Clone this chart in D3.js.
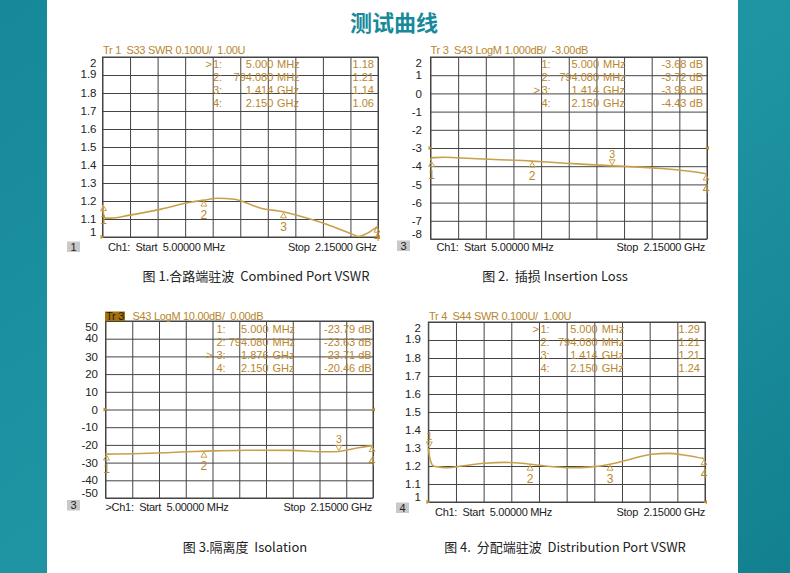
<!DOCTYPE html>
<html><head><meta charset="utf-8">
<script src="https://cdn.jsdelivr.net/npm/d3@7"></script>
<style>
html,body{margin:0;padding:0;background:#fff;overflow:hidden;}
svg{display:block;}
text{white-space:pre;}
</style></head><body>
<svg id="c" width="790" height="573"></svg>
<script>
// ---------- DATA ----------
const freqSpan = [5, 2150]; // MHz, start/stop
const title = "测试曲线";
const captions = ["图 1.合路端驻波  Combined Port VSWR", "图 2.  插损 Insertion Loss", "图 3.隔离度  Isolation", "图 4.  分配端驻波  Distribution Port VSWR"];
const headers = ["Tr 1  S33 SWR 0.100U/  1.00U", "Tr 3  S43 LogM 1.000dB/  -3.00dB", "S43 LogM 10.00dB/  0.00dB", "Tr 4  S44 SWR 0.100U/  1.00U"];
const channelBoxes = ["1", "3", "3", "4"];
const startTexts = ["Ch1:  Start  5.00000 MHz", "Ch1:  Start  5.00000 MHz", ">Ch1:  Start  5.00000 MHz", "Ch1:  Start  5.00000 MHz"];
const stopText = "Stop  2.15000 GHz";

const swrTicks = [2, 1.9, 1.8, 1.7, 1.6, 1.5, 1.4, 1.3, 1.2, 1.1, 1];
const lossTicks = [2, 1, 0, -1, -2, -3, -4, -5, -6, -7, -8];
const isoTicks = [50, 40, 30, 20, 10, 0, -10, -20, -30, -40, -50];

// Fig 1: combined port VSWR (S33)
const p1Freq = [5, 15, 30, 75, 204, 462, 669, 794, 902, 1031, 1238, 1414, 1496, 1754, 1935, 2000, 2065, 2150];
const p1Swr  = [1.18, 1.12, 1.105, 1.105, 1.12, 1.155, 1.19, 1.205, 1.215, 1.21, 1.16, 1.14, 1.125, 1.07, 1.02, 1.003, 1.02, 1.06];
// Fig 2: insertion loss (S43, dB)
const p2Freq = [5, 12, 26, 116, 246, 505, 794, 1023, 1414, 1541, 1800, 2059, 2150];
const p2Loss = [-3.68, -3.56, -3.53, -3.51, -3.55, -3.63, -3.72, -3.82, -3.98, -4.02, -4.13, -4.32, -4.43];
// Fig 3: isolation (S43, dB)
const p3Freq = [5, 282, 495, 656, 870, 1137, 1511, 1672, 1779, 1876, 1913, 2047, 2150];
const p3Iso  = [-25.2, -24.9, -24.4, -23.9, -23.4, -23.0, -23.1, -23.7, -23.9, -23.7, -23.3, -21.5, -20.4];
// Fig 4: distribution port VSWR (S44)
const p4Freq = [5, 18, 44, 83, 160, 263, 444, 599, 729, 794, 910, 1116, 1271, 1414, 1556, 1737, 1866, 1995, 2150];
const p4Swr  = [1.30, 1.24, 1.20, 1.195, 1.19, 1.20, 1.215, 1.22, 1.215, 1.21, 1.20, 1.19, 1.195, 1.21, 1.235, 1.265, 1.27, 1.26, 1.24];

// Marker tables
const markerNums = ["1:", "2:", "3:", "4:"];
const markerFreqsStd = [5, 794.08, 1414, 2150];
const markerFreqLabelsStd = ["5.000", "794.080", "1.414", "2.150"];
const markerFreqsIso = [5, 794.08, 1876, 2150];
const markerFreqLabelsIso = ["5.000", "794.080", "1.876", "2.150"];
const markerUnits = ["MHz", "MHz", "GHz", "GHz"];
const p1MarkerVals = ["1.18", "1.21", "1.14", "1.06"];
const p2MarkerVals = ["-3.68 dB", "-3.72 dB", "-3.98 dB", "-4.43 dB"];
const p3MarkerVals = ["-23.79 dB", "-23.63 dB", "-23.71 dB", "-20.46 dB"];
const p4MarkerVals = ["1.29", "1.21", "1.21", "1.24"];
const activeMarkers = [0, 2, 2, 0];

// ---------- LAYOUT / STYLE ----------
const GOLD = "#b8862e", TRACE = "#c9a04a", GRID = "#444";
const font = "Liberation Sans, Arial, sans-serif";
const svg = d3.select("#c");
const defs = svg.append("defs");
const g1 = defs.append("linearGradient").attr("id", "teal").attr("x1", 0).attr("y1", 0).attr("x2", 1).attr("y2", 1);
g1.append("stop").attr("offset", 0).attr("stop-color", "#15889a");
g1.append("stop").attr("offset", 0.5).attr("stop-color", "#1f95a4");
g1.append("stop").attr("offset", 1).attr("stop-color", "#12808f");
svg.append("rect").attr("width", 790).attr("height", 573).attr("fill", "url(#teal)");
svg.append("rect").attr("x", 47).attr("y", 0).attr("width", 691).attr("height", 573).attr("fill", "#fff");

svg.append("text").attr("x", 394).attr("y", 31).attr("text-anchor", "middle")
  .attr("font-family", "Noto Sans CJK SC").attr("font-weight", "bold").attr("font-size", 22)
  .attr("fill", "#17899a").text(title);

const panels = [
  {box: [102.5, 378, 57, 237], dom: [1, 2], ticks: swrTicks, f: p1Freq, v: p1Swr,
   mf: markerFreqsStd, mfl: markerFreqLabelsStd, mv: p1MarkerVals, dirs: ["up", "up", "up", "up"],
   tbl: [205.5, 213, 273.3, 277, 374, 64], hdrX: 103, hdrY: 54, lblR: 96.5,
   foot: [67, 241.5, 108, 251.3, 376.5], cap: [256, 281], ref: 1},
  {box: [430.5, 707, 57, 239], dom: [-8, 2], ticks: lossTicks, f: p2Freq, v: p2Loss,
   mf: markerFreqsStd, mfl: markerFreqLabelsStd, mv: p2MarkerVals, dirs: ["up", "up", "down", "up"],
   tbl: [533.5, 541.5, 599, 603, 703, 64], hdrX: 430.5, hdrY: 54, lblR: 422,
   foot: [397, 240.5, 436.5, 251.3, 705], cap: [555, 281], ref: -3},
  {box: [105.5, 373, 321, 498], dom: [-50, 50], ticks: isoTicks, f: p3Freq, v: p3Iso,
   mf: markerFreqsIso, mfl: markerFreqLabelsIso, mv: p3MarkerVals, dirs: ["up", "up", "down", "up"],
   tbl: [206, 216.5, 268.5, 272.5, 371.7, 329], hdrX: 132.5, hdrY: 319.7, lblR: 98,
   foot: [67, 500, 105.5, 510.7, 372], cap: [245, 552], ref: 0},
  {box: [428.3, 705, 322, 502], dom: [1, 2], ticks: swrTicks, f: p4Freq, v: p4Swr,
   mf: markerFreqsStd, mfl: markerFreqLabelsStd, mv: p4MarkerVals, dirs: ["down", "up", "up", "up"],
   tbl: [532.5, 540.5, 597.7, 601.7, 700, 329], hdrX: 429, hdrY: 319.7, lblR: 421,
   foot: [396, 502.5, 435, 515.7, 705], cap: [565, 552], ref: 1}
];

panels.forEach((p, i) => {
  const [x0, x1, y0, y1] = p.box;
  const x = d3.scaleLinear().domain(freqSpan).range([x0, x1]);
  const y = d3.scaleLinear().domain(p.dom).range([y1, y0]);
  const g = svg.append("g");

  // horizontal grid + labels
  const ya = g.append("g").attr("transform", `translate(${x0},0)`)
    .call(d3.axisLeft(y).tickValues(p.ticks).tickSize(-(x1 - x0)).tickPadding(x0 - p.lblR).tickFormat(d => String(d)));
  ya.select(".domain").remove();
  ya.selectAll("line").attr("stroke", GRID).attr("stroke-width", 1);
  const nT = p.ticks.length;
  ya.selectAll("text").attr("font-family", font).attr("font-size", 11.5).attr("fill", "#222")
    .attr("dy", (d, k) => k === 0 ? "0.85em" : (k === 1 ? "0.25em" : (k === nT - 1 ? "-0.15em" : "0.32em")));

  // vertical grid
  const xa = g.append("g").attr("transform", `translate(0,${y1})`)
    .call(d3.axisBottom(x).tickValues(d3.range(11).map(k => freqSpan[0] + k * (freqSpan[1] - freqSpan[0]) / 10))
      .tickSize(-(y1 - y0)).tickFormat(""));
  xa.select(".domain").remove();
  xa.selectAll("line").attr("stroke", GRID).attr("stroke-width", 1);

  g.append("rect").attr("x", x0).attr("y", y0).attr("width", x1 - x0).attr("height", y1 - y0)
    .attr("fill", "none").attr("stroke", GRID).attr("stroke-width", 1);

  // header
  if (i === 2) {
    g.append("rect").attr("x", 105).attr("y", 311.5).attr("width", 20).attr("height", 9.5).attr("fill", "#a3720f");
    g.append("text").attr("x", 106).attr("y", 319.7).attr("font-family", font).attr("font-size", 11)
      .attr("letter-spacing", -0.25).attr("fill", "#2a1a00").text("Tr 3");
  }
  g.append("text").attr("x", p.hdrX).attr("y", p.hdrY).attr("font-family", font).attr("font-size", 11)
    .attr("letter-spacing", -0.3).attr("fill", GOLD).text(headers[i]);

  // marker table
  const [gtX, numX, fR, uX, vR, rowY] = p.tbl;
  markerNums.forEach((n, k) => {
    const yy = rowY + k * 13 + 4;
    const t = (xx, s, anchor) => g.append("text").attr("x", xx).attr("y", yy).attr("font-family", font)
      .attr("font-size", 11).attr("fill", GOLD).attr("text-anchor", anchor).text(s);
    if (k === activeMarkers[i]) t(gtX, ">", "start");
    t(numX, n, "start");
    t(fR, p.mfl[k], "end");
    t(uX, markerUnits[k], "start");
    t(vR, p.mv[k], "end");
  });

  // reference level arrows
  const ry = y(p.ref);
  g.append("path").attr("d", `M${x0 - 2},${ry - 2} L${x0 + 2},${ry} L${x0 - 2},${ry + 2} Z`).attr("fill", "#c0902a");
  g.append("path").attr("d", `M${x1 + 2},${ry - 2} L${x1 - 2},${ry} L${x1 + 2},${ry + 2} Z`).attr("fill", "#c0902a");

  // trace
  const data = p.f.map((f, k) => ({f, v: p.v[k]}));
  g.append("path").datum(data).attr("fill", "none").attr("stroke", TRACE).attr("stroke-width", 1.6)
    .attr("d", d3.line().x(d => x(d.f)).y(d => y(d.v)).curve(d3.curveMonotoneX));

  // markers on trace
  const interp = d3.scaleLinear().domain(p.f).range(p.v);
  p.mf.forEach((mf, k) => {
    const cx = Math.min(Math.max(x(mf), x0 + 1), x1 - 1);
    const ty = y(interp(mf));
    const up = p.dirs[k] === "up";
    const d = up ? `M${cx},${ty + 1} L${cx - 3},${ty + 6} L${cx + 3},${ty + 6} Z`
                 : `M${cx},${ty - 1} L${cx - 3},${ty - 6} L${cx + 3},${ty - 6} Z`;
    g.append("path").attr("d", d).attr("fill", "none").attr("stroke", TRACE).attr("stroke-width", 1);
    const ly = up ? Math.min(ty + 19, y1 + 3.5) : ty - 8;
    g.append("text").attr("x", cx).attr("y", ly).attr("text-anchor", "middle")
      .attr("font-family", font).attr("font-size", ly < ty + 19 ? 10.5 : 12).attr("fill", GOLD).text(String(k + 1));
  });

  // footer
  const [bx, by, sx, fy, stopR] = p.foot;
  g.append("rect").attr("x", bx).attr("y", by).attr("width", 13).attr("height", 10.5).attr("fill", "#c9c9c9");
  g.append("text").attr("x", bx + 6.5).attr("y", by + 9).attr("text-anchor", "middle").attr("font-family", font)
    .attr("font-size", 11).attr("fill", "#222").text(channelBoxes[i]);
  g.append("text").attr("x", sx).attr("y", fy).attr("font-family", font).attr("font-size", 11)
    .attr("letter-spacing", -0.3).attr("fill", "#222").text(startTexts[i]);
  g.append("text").attr("x", stopR).attr("y", fy).attr("text-anchor", "end").attr("font-family", font)
    .attr("font-size", 11).attr("letter-spacing", -0.3).attr("fill", "#222").text(stopText);

  // caption
  svg.append("text").attr("x", p.cap[0]).attr("y", p.cap[1]).attr("text-anchor", "middle")
    .attr("font-family", "Noto Sans CJK SC").attr("font-size", 13).attr("fill", "#222").text(captions[i]);
});
</script></body></html>
